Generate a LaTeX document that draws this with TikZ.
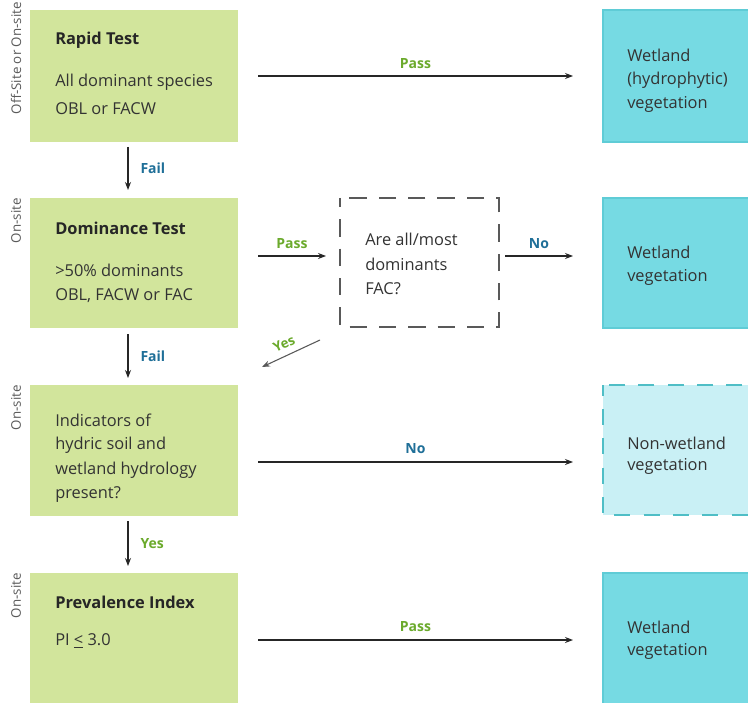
\documentclass[tikz,border=0pt]{standalone}
\usepackage{fontspec}
\setmainfont{Open Sans}
\usetikzlibrary{arrows.meta,calc}

\definecolor{boxgreen}{HTML}{D2E59C}
\definecolor{boxcyan}{HTML}{76DAE3}
\definecolor{cyanedge}{HTML}{5FCCD6}
\definecolor{palecyan}{HTML}{C9F0F5}
\definecolor{tealdash}{HTML}{4FBEC6}
\definecolor{passgreen}{HTML}{6BAA2C}
\definecolor{failblue}{HTML}{1F6F98}
\definecolor{bodytext}{HTML}{333333}
\definecolor{sidegrey}{HTML}{5A5A5A}

\tikzset{
  x=0.75pt, y=-0.75pt,
  body/.style={anchor=west, inner sep=0pt, text=bodytext, font=\fontsize{12.3}{18.75}\selectfont, align=left},
  title/.style={body, font=\fontsize{12.3}{18.75}\selectfont\bfseries, text=black!85},
  side/.style={rotate=90, anchor=east, inner sep=0pt, text=sidegrey, font=\fontsize{10}{12}\selectfont},
  flow/.style={draw=black!85, line width=0.8pt, -{Stealth[length=6pt,width=4.5pt]}},
  lab/.style={inner sep=0pt, font=\fontsize{10.5}{12}\selectfont\bfseries},
}

\begin{document}
\begin{tikzpicture}
\useasboundingbox[fill=white] (0,0) rectangle (748,702);

% ---- left column: tests ----
\path[fill=boxgreen] (30,10) rectangle (238,142) node[pos=0.5, inner sep=0pt] (rapid) {};
\path[fill=boxgreen] (30,198) rectangle (238,328) node[pos=0.5, inner sep=0pt] (domin) {};
\path[fill=boxgreen] (30,385) rectangle (238,516) node[pos=0.5, inner sep=0pt] (indic) {};
\path[fill=boxgreen] (30,573) rectangle (238,710) node[pos=0.5, inner sep=0pt] (preval) {};

\node[title] (rapidT) at (55,40) {Rapid Test};
\node[body]  (rapidA) at (55,82) {All dominant species};
\node[body]  (rapidB) at (55,109) {OBL or FACW};

\node[title] (dominT) at (55,228) {Dominance Test};
\node[body]  (dominA) at (55,270) {>50\% dominants};
\node[body]  (dominB) at (55,296) {OBL, FACW or FAC};

\node[body]  (indicA) at (55,420) {Indicators of};
\node[body]  (indicB) at (55,445) {hydric soil and};
\node[body]  (indicC) at (55,470) {wetland hydrology};
\node[body]  (indicD) at (55,495) {present?};

\node[title] (prevT) at (55,602) {Prevalence Index};
\node[body]  (prevA) at (55,641) {PI \underline{<} 3.0};

% ---- side labels ----
\node[side] (s1) at (16,2) {Off-Site or On-site};
\node[side] (s2) at (16,198) {On-site};
\node[side] (s3) at (16,385) {On-site};
\node[side] (s4) at (16,573) {On-site};

% ---- middle question ----
\draw[draw=black!65, line width=1.1pt, dash pattern=on 13pt off 9pt, dash phase=6pt]
  (340,198) rectangle (499,327);
\node[body] (qA) at (365,239) {Are all/most};
\node[body] (qB) at (365,264) {dominants};
\node[body] (qC) at (365,289) {FAC?};

% ---- right column: outcomes ----
\path[fill=boxcyan, draw=cyanedge, line width=0.8pt] (603,10) rectangle (760,142);
\path[fill=boxcyan, draw=cyanedge, line width=0.8pt] (603,198) rectangle (760,328);
\path[fill=palecyan, draw=tealdash, line width=1.6pt, dash pattern=on 12pt off 10pt, dash phase=4pt] (603,385) rectangle (760,515);
\path[fill=boxcyan, draw=cyanedge, line width=0.8pt] (603,573) rectangle (760,710);

\node[body] (oA1) at (627,55) {Wetland};
\node[body] (oA2) at (627,80) {(hydrophytic)};
\node[body] (oA3) at (627,104) {vegetation};

\node[body] (oB1) at (627,252) {Wetland};
\node[body] (oB2) at (627,277) {vegetation};

\node[body] (oC1) at (627,443) {Non-wetland};
\node[body] (oC2) at (627,466) {vegetation};

\node[body] (oD1) at (627,627) {Wetland};
\node[body] (oD2) at (627,651) {vegetation};

% ---- connectors ----
\coordinate (r1s) at (258,76);  \coordinate (r1e) at (573,76);
\coordinate (r2s) at (258,256); \coordinate (r2e) at (326,256);
\coordinate (r2ns) at (505,256);\coordinate (r2ne) at (573,256);
\coordinate (r3s) at (258,462); \coordinate (r3e) at (573,462);
\coordinate (r4s) at (258,640); \coordinate (r4e) at (573,640);
\coordinate (v1s) at (128,147); \coordinate (v1e) at (128,190);
\coordinate (v2s) at (128,334); \coordinate (v2e) at (128,378);
\coordinate (v3s) at (128,521); \coordinate (v3e) at (128,566);
\coordinate (ys) at (320,340);  \coordinate (ye) at (262,367);

\draw[flow] (r1s) -- (r1e) node[lab, text=passgreen, midway, above=5pt] (p1) {Pass};
\draw[flow] (r2s) -- (r2e) node[lab, text=passgreen, midway, above=5pt] (p2) {Pass};
\draw[flow] (r2ns) -- (r2ne) node[lab, text=failblue, midway, above=5pt] (n1) {No};
\draw[flow] (r3s) -- (r3e) node[lab, text=failblue, midway, above=6pt] (n2) {No};
\draw[flow] (r4s) -- (r4e) node[lab, text=passgreen, midway, above=6pt] (p3) {Pass};

\draw[flow] (v1s) -- (v1e) node[lab, text=failblue, midway, right=9pt] (f1) {Fail};
\draw[flow] (v2s) -- (v2e) node[lab, text=failblue, midway, right=9pt] (f2) {Fail};
\draw[flow] (v3s) -- (v3e) node[lab, text=passgreen, midway, right=9pt] (y1) {Yes};

\draw[flow, draw=black!65] (ys) -- (ye);
\node[lab, text=passgreen, rotate=25, font=\fontsize{10}{12}\selectfont\bfseries]
  (y2) at (284,344) {Yes};
\end{tikzpicture}
\end{document}
